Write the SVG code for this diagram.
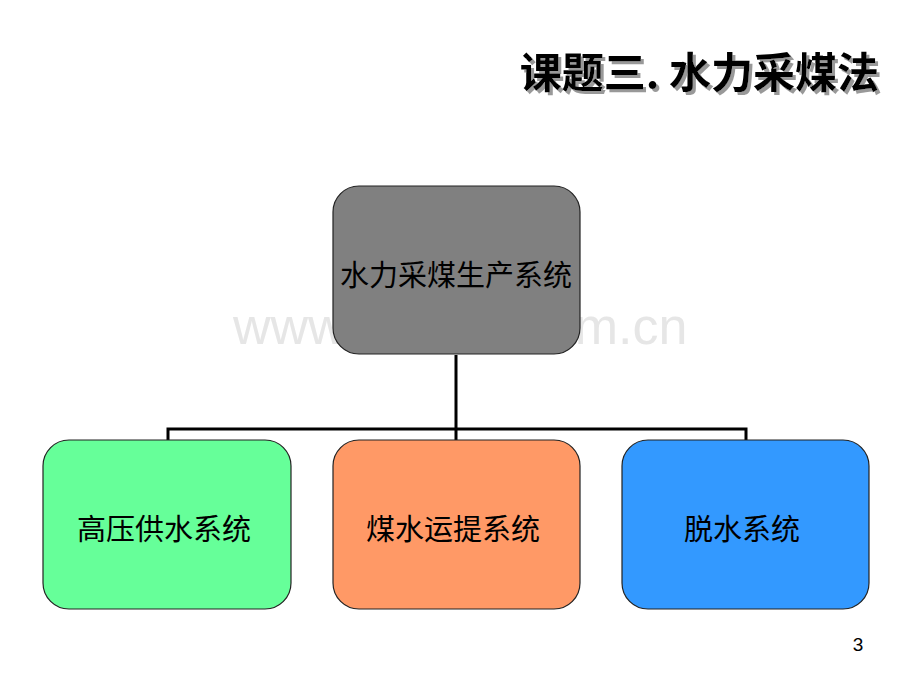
<svg xmlns="http://www.w3.org/2000/svg" width="920" height="690" viewBox="0 0 920 690">
<defs>
<style>
.box{stroke:#222;stroke-width:1.2}
.lbl{font-family:"Noto Sans CJK SC","Noto Sans",sans-serif;font-size:29px;fill:#000;text-anchor:middle;dominant-baseline:central}
.conn{stroke:#000;stroke-width:3;fill:none}
.title{font-family:"Noto Sans CJK SC","Noto Sans",sans-serif;font-size:42px;font-weight:bold;text-anchor:end}
</style>
<filter id="shadow" x="-5%" y="-20%" width="110%" height="140%">
<feDropShadow dx="3" dy="3" stdDeviation="0.6" flood-color="#999" flood-opacity="1"/>
</filter>
</defs>
<rect width="920" height="690" fill="#fff"/>
<text x="879" y="88" class="title" fill="#000" filter="url(#shadow)">课题三. 水力采煤法</text>
<text x="233" y="344" font-family="Liberation Sans, Arial, sans-serif" font-size="52" fill="#e6e6e6">www.zixin.co<tspan dx="44">m.cn</tspan></text>
<g id="connectors">
<path class="conn" d="M456,355 V429 M168,440 V429 H746 V440 M456,429 V440"/>
</g>
<g id="node-top">
<rect class="box" x="333" y="186" width="247" height="168" rx="26" fill="#808080"/>
<text class="lbl" x="456" y="273">水力采煤生产系统</text>
</g>
<g id="node-water">
<rect class="box" x="43" y="440" width="248" height="169" rx="26" fill="#66FF99"/>
<text class="lbl" x="164" y="527">高压供水系统</text>
</g>
<g id="node-coal">
<rect class="box" x="333" y="440" width="247" height="169" rx="26" fill="#FF9966"/>
<text class="lbl" x="453" y="527">煤水运提系统</text>
</g>
<g id="node-dewater">
<rect class="box" x="622" y="440" width="247" height="169" rx="26" fill="#3399FF"/>
<text class="lbl" x="742" y="527">脱水系统</text>
</g>
<text x="858" y="651" font-family="Liberation Sans, Arial, sans-serif" font-size="19" text-anchor="middle" fill="#000">3</text>
</svg>
